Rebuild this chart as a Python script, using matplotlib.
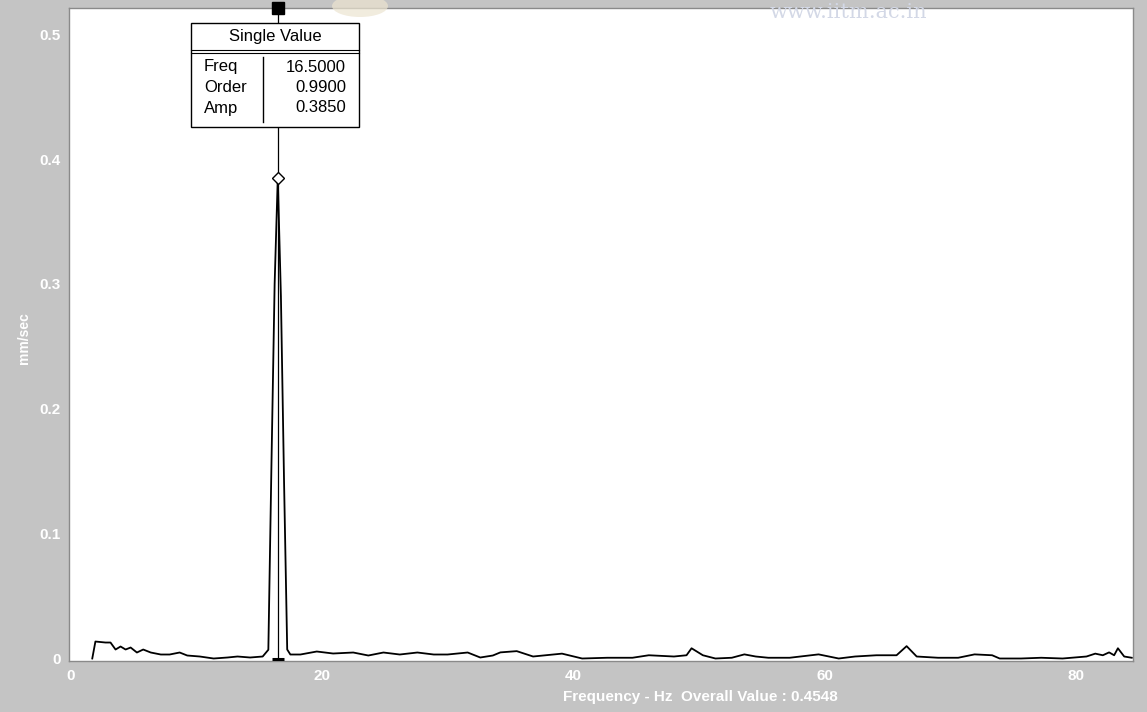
import matplotlib
matplotlib.use("Agg")
import matplotlib.pyplot as plt
from matplotlib.patches import Rectangle, Ellipse
from matplotlib.lines import Line2D

# order-tracking spectrum, amplitude in mm/sec
freq_hz = [1.75, 2.0, 2.8, 3.2, 3.6, 4.0, 4.4, 4.8, 5.3, 5.8, 6.4, 7.2, 7.9,
           8.7, 9.3, 10.3, 11.4, 12.5, 13.3, 14.3, 15.3, 15.75, 16.0, 16.25,
           16.5, 16.75, 17.0, 17.25, 17.5, 18.3, 19.6, 20.9, 22.5, 23.7, 24.9,
           26.2, 27.6, 28.9, 30.0, 31.6, 32.6, 33.6, 34.2, 35.5, 36.8, 39.1,
           40.7, 42.7, 44.7, 46.0, 48.0, 49.0, 49.4, 50.3, 51.3, 52.6, 53.6,
           54.5, 55.5, 57.2, 59.5, 61.1, 62.4, 64.1, 65.7, 66.5, 67.3, 69.0,
           70.6, 71.9, 73.3, 73.9, 75.6, 77.2, 78.9, 80.8, 81.5, 82.1, 82.6,
           83.0, 83.3, 83.8, 84.4]
amp = [0.0, 0.0136, 0.0128, 0.0128, 0.0072, 0.0096, 0.0072, 0.0088, 0.0048,
       0.0072, 0.0048, 0.0032, 0.0032, 0.0048, 0.0024, 0.0016, 0.0, 0.0008,
       0.0016, 0.0008, 0.0016, 0.007, 0.157, 0.30, 0.385, 0.29, 0.141, 0.0072,
       0.0032, 0.0032, 0.0056, 0.004, 0.0048, 0.0024, 0.0048, 0.0032, 0.0048,
       0.0032, 0.0032, 0.0048, 0.0008, 0.0024, 0.0049, 0.0059, 0.0016, 0.0039,
       0.0, 0.0006, 0.0006, 0.0026, 0.0016, 0.0026, 0.0082, 0.0026, 0.0,
       0.0006, 0.0033, 0.0016, 0.0006, 0.0006, 0.0033, 0.0, 0.0016, 0.0026,
       0.0026, 0.0099, 0.0016, 0.0006, 0.0006, 0.0033, 0.0026, 0.0, 0.0,
       0.0006, 0.0, 0.0016, 0.0039, 0.0026, 0.0049, 0.0026, 0.0082, 0.0016,
       0.0006]

cursor_freq = 16.5
cursor_order = 0.99
cursor_amp = 0.385
overall_value = 0.4548

x_ticks = [0, 20, 40, 60, 80]
y_ticks = [0, 0.1, 0.2, 0.3, 0.4, 0.5]

W, H = 1147, 712
BG = "#c4c4c4"


def px(x, y):
    """pixel position (from top-left) -> figure fraction"""
    return x / W, 1 - y / H


fig = plt.figure(figsize=(W / 100, H / 100), dpi=100, facecolor=BG)
plt.rcParams["font.family"] = ["Liberation Sans", "DejaVu Sans"]

ax = fig.add_axes([69 / W, 51 / H, 1064 / W, 653 / H])
ax.set_facecolor("white")
ax.plot(freq_hz, amp, color="black", lw=1.3, zorder=3)
ax.set_xlim(-0.1, 84.5)
ax.set_ylim(-0.002, 0.521)

ax.set_xticks(x_ticks)
ax.set_xticklabels([str(t) for t in x_ticks])
ax.set_yticks(y_ticks)
ax.set_yticklabels(["0" if t == 0 else f"{t:.1f}" for t in y_ticks])
ax.tick_params(length=0, colors="white", labelsize=11, pad=6)
for lab in ax.get_xticklabels() + ax.get_yticklabels():
    lab.set_fontweight("bold")
for s in ax.spines.values():
    s.set_color("#8a8a8a")
    s.set_linewidth(1.0)

# cursor line, foot and amplitude marker
ax.axvline(cursor_freq, color="black", lw=0.9, zorder=2)
ax.plot([cursor_freq], [0], marker="_", ms=9, mew=2.2, color="black",
        clip_on=False, zorder=4)
ax.plot([cursor_freq], [cursor_amp], marker="D", ms=6, mfc="white",
        mec="black", mew=1.0, zorder=5)
ax.plot([cursor_freq], [0.521], marker="s", ms=9, color="black",
        clip_on=False, zorder=5)

# axis titles in the grey frame
fig.text(*px(24, 338), "mm/sec", rotation=90, ha="center", va="center",
         color="white", fontsize=10, fontweight="bold")
fig.text(*px(700, 697),
         f"Frequency - Hz  Overall Value : {overall_value:.4f}",
         ha="center", va="center", color="white", fontsize=11,
         fontweight="bold")

# cursor readout box
bx0, by0, bx1, by1 = 191, 23, 359, 127
box = Rectangle(px(bx0, by1), (bx1 - bx0) / W, (by1 - by0) / H,
                transform=fig.transFigure, facecolor="white",
                edgecolor="black", lw=1.0, zorder=10)
fig.add_artist(box)
for yy in (50, 53):
    fig.add_artist(Line2D([bx0 / W, bx1 / W], [1 - yy / H] * 2,
                          transform=fig.transFigure, color="black", lw=0.8,
                          zorder=11))
fig.add_artist(Line2D([263 / W] * 2, [1 - 57 / H, 1 - 122 / H],
                      transform=fig.transFigure, color="black", lw=1.0,
                      zorder=11))
fig.text(*px(275, 36), "Single Value", ha="center", va="center",
         fontsize=12, zorder=12)
rows = [("Freq", f"{cursor_freq:.4f}"), ("Order", f"{cursor_order:.4f}"),
        ("Amp", f"{cursor_amp:.4f}")]
for i, (name, val) in enumerate(rows):
    y = 67 + i * 20.5
    fig.text(*px(204, y), name, ha="left", va="center", fontsize=12,
             zorder=12)
    fig.text(*px(346, y), val, ha="right", va="center", fontsize=12,
             zorder=12)

# faint site watermark along the top edge
fig.add_artist(Ellipse(px(360, 6), 56 / W, 22 / H, transform=fig.transFigure,
                       facecolor="#ece4d0", edgecolor="none", alpha=0.7,
                       zorder=9))
fig.text(*px(848, 12), "www.iitm.ac.in", ha="center", va="center",
         fontsize=15, family="DejaVu Serif", color="#d3d8e6", zorder=9)

fig.savefig("out.png", dpi=100, facecolor=BG)
